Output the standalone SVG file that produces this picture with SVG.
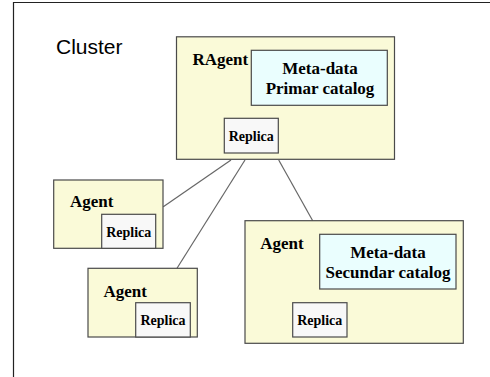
<svg xmlns="http://www.w3.org/2000/svg" width="490" height="377" viewBox="0 0 490 377">
<style>
.agent{fill:#fafad8;stroke:#4a4a4a;stroke-width:1.2}
.meta{fill:#eafefe;stroke:#4a4a4a;stroke-width:1.2}
.rep{fill:#f8f8f8;stroke:#4a4a4a;stroke-width:1.2}
.lbl{font-family:"Liberation Serif",serif;font-weight:bold;font-size:17px;fill:#000}
.rl{font-family:"Liberation Serif",serif;font-weight:bold;font-size:14px;fill:#000;text-anchor:middle}
.mt{font-family:"Liberation Serif",serif;font-weight:bold;font-size:17px;fill:#000;text-anchor:middle}
.conn{stroke:#666;stroke-width:1.2;fill:none}
</style>
<rect width="490" height="377" fill="#fff"/>
<g id="frame">
<path d="M13.5 377 V2.5 H490" fill="none" stroke="#222" stroke-width="1.2"/>
<text x="56" y="54" font-family="Liberation Sans,Arial,sans-serif" font-size="21" fill="#000">Cluster</text>
</g>
<g id="connectors">
<line class="conn" x1="231" y1="160" x2="163.3" y2="206.7"/>
<line class="conn" x1="245" y1="160" x2="177" y2="268.3"/>
<line class="conn" x1="278.7" y1="160" x2="312.7" y2="220.7"/>
</g>
<g id="ragent">
<rect class="agent" x="176.5" y="36.8" width="218" height="122.5"/>
<text class="lbl" x="192.5" y="65">RAgent</text>
<rect class="meta" x="251.3" y="50.3" width="136" height="55"/>
<text class="mt" x="320" y="73.5">Meta-data</text>
<text class="mt" x="320" y="93.5">Primar catalog</text>
<rect class="rep" x="224.3" y="118.3" width="54" height="34.7"/>
<text class="rl" x="251.3" y="141">Replica</text>
</g>
<g id="agent1">
<rect class="agent" x="53.7" y="180" width="109.3" height="68.3"/>
<text class="lbl" x="70" y="207">Agent</text>
<rect class="rep" x="101.7" y="214.3" width="54" height="34"/>
<text class="rl" x="128.7" y="236.5">Replica</text>
</g>
<g id="agent2">
<rect class="agent" x="88" y="268.3" width="109.3" height="68.7"/>
<text class="lbl" x="103.5" y="297">Agent</text>
<rect class="rep" x="135.7" y="302.7" width="54.6" height="34.3"/>
<text class="rl" x="163" y="325">Replica</text>
</g>
<g id="agent3">
<rect class="agent" x="245" y="220.7" width="218.3" height="122.6"/>
<text class="lbl" x="260.3" y="248.5">Agent</text>
<rect class="meta" x="319.7" y="234.3" width="136.3" height="54.7"/>
<text class="mt" x="388" y="257.5">Meta-data</text>
<text class="mt" x="388" y="277.5">Secundar catalog</text>
<rect class="rep" x="292.7" y="302.7" width="54.3" height="34.3"/>
<text class="rl" x="319.8" y="325">Replica</text>
</g>
</svg>
